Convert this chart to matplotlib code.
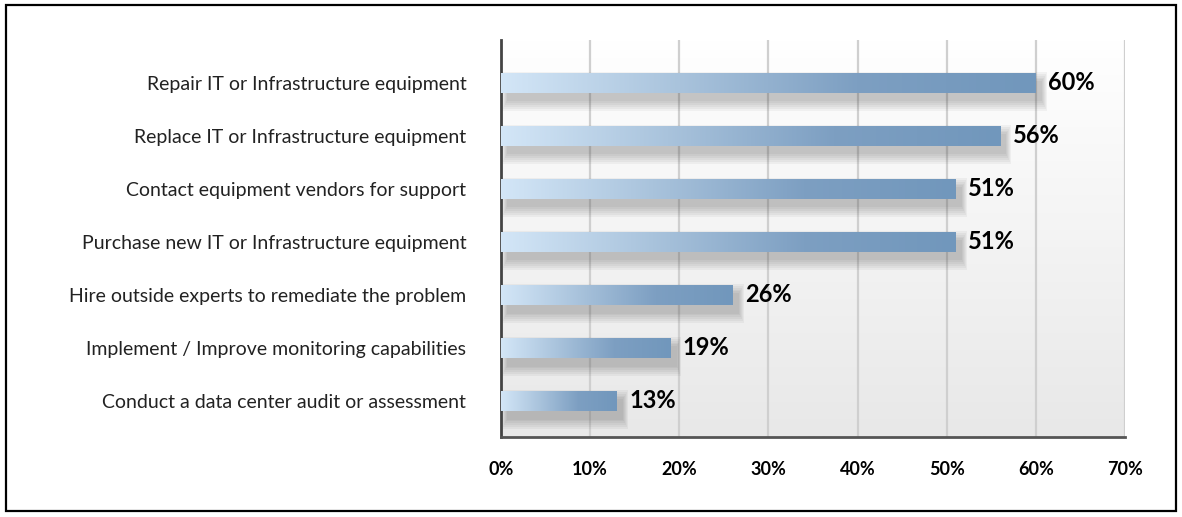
import matplotlib.pyplot as plt
import numpy as np
from matplotlib.colors import LinearSegmentedColormap
from matplotlib.patches import Rectangle

categories = [
    "Repair IT or Infrastructure equipment",
    "Replace IT or Infrastructure equipment",
    "Contact equipment vendors for support",
    "Purchase new IT or Infrastructure equipment",
    "Hire outside experts to remediate the problem",
    "Implement / Improve monitoring capabilities",
    "Conduct a data center audit or assessment",
]
values = [60, 56, 51, 51, 26, 19, 13]
xticks = [0, 10, 20, 30, 40, 50, 60, 70]

plt.rcParams["font.family"] = ["Lato", "DejaVu Sans"]

bar_cmap = LinearSegmentedColormap.from_list("bar", ["#d3e6f7", "#a9c3dc", "#7d9fc2", "#7197bc"])
bg_cmap = LinearSegmentedColormap.from_list("bg", ["#ffffff", "#e8e8e8"])

fig = plt.figure(figsize=(11.82, 5.17), dpi=100)
fig.patches.append(Rectangle((6 / 1182, 6 / 517), 1170 / 1182, 506 / 517,
                             transform=fig.transFigure, fill=False,
                             edgecolor="black", linewidth=1.6))
ax = fig.add_axes([501 / 1182, 1 - 437 / 517, 624 / 1182, 397 / 517])

ylo, yhi = 6.68, -0.81
ax.set_xlim(0, 70)
ax.set_ylim(ylo, yhi)

# background gradient, white on top to light gray at bottom
grad = np.linspace(0, 1, 256).reshape(-1, 1)
ax.imshow(grad, cmap=bg_cmap, aspect="auto", extent=(0, 70, ylo, yhi), zorder=0)

for x in xticks[1:]:
    ax.axvline(x, color="#cfcfcf", linewidth=1.6, zorder=1)

bar_h = 0.38
hgrad = np.linspace(0, 1, 256).reshape(1, -1)
for i, v in enumerate(values):
    # soft drop shadow
    for k in range(6):
        pad = 0.12 * k
        ax.add_patch(Rectangle((0.7 - pad * 0.9, i - bar_h / 2 + 0.16 - pad * 0.3),
                               v + pad * 1.8, bar_h + pad * 0.6,
                               facecolor="#444444", edgecolor="none",
                               alpha=0.055, zorder=2))
    rect = Rectangle((0, i - bar_h / 2), v, bar_h, facecolor="none", edgecolor="none", zorder=3)
    ax.add_patch(rect)
    im = ax.imshow(hgrad, cmap=bar_cmap, aspect="auto",
                   extent=(0, v, i + bar_h / 2, i - bar_h / 2), zorder=3)
    im.set_clip_path(rect)
    ax.text(v + 1.4, i, f"{v}%", ha="left", va="center", fontsize=17,
            fontweight="bold", color="black", zorder=4)

ax.set_xlim(0, 70)
ax.set_ylim(ylo, yhi)
ax.set_yticks(range(len(categories)))
ax.set_yticklabels(categories, fontsize=14, color="#222222")
ax.set_xticks(xticks)
ax.set_xticklabels([f"{x}%" for x in xticks], fontsize=13, fontweight="bold")
ax.tick_params(axis="both", length=0)
ax.tick_params(axis="y", pad=25)
ax.tick_params(axis="x", pad=17)

for side in ["top", "right"]:
    ax.spines[side].set_visible(False)
ax.spines["left"].set_color("#444444")
ax.spines["bottom"].set_color("#555555")
ax.spines["left"].set_linewidth(2)
ax.spines["bottom"].set_linewidth(2)

fig.savefig("out.png", dpi=100)
